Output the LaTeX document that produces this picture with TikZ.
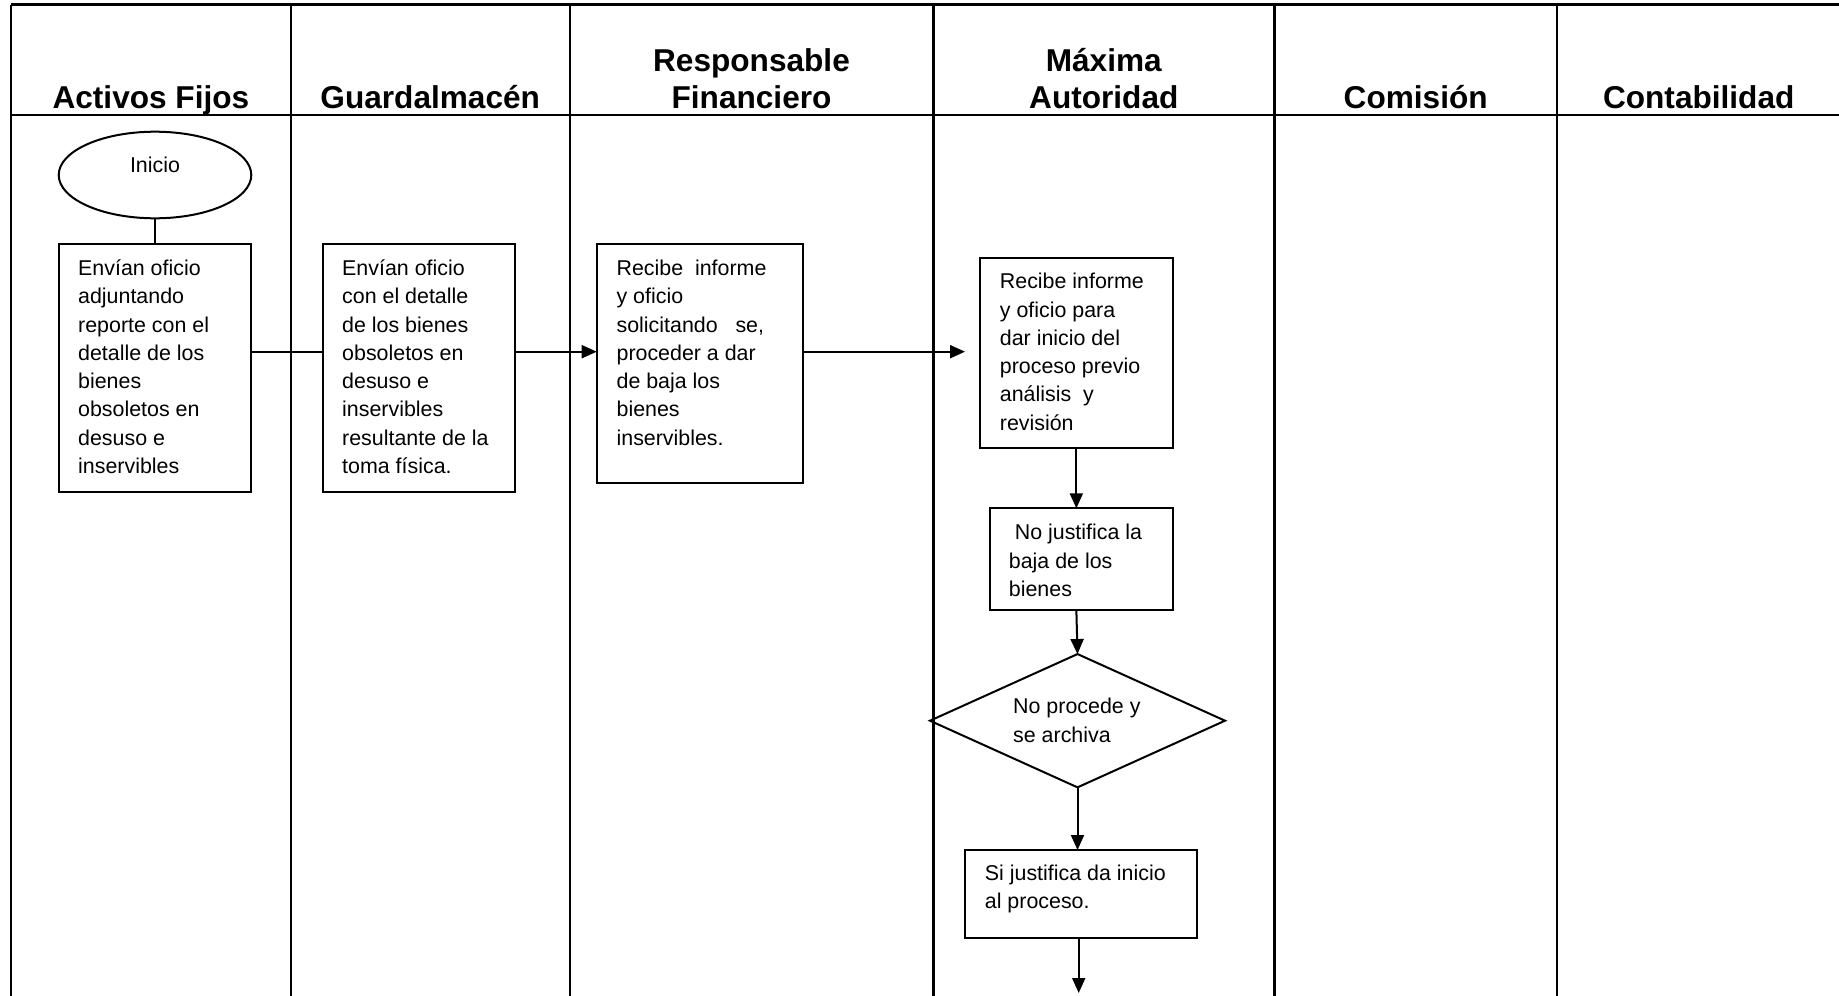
\documentclass[tikz,border=0pt]{standalone}
\usepackage{fontspec}
\setmainfont{Liberation Sans}
\usetikzlibrary{shapes.geometric,arrows.meta}

\begin{document}
\begin{tikzpicture}[x=0.5pt,y=-0.5pt,
  grid/.style={line width=1.2pt},
  outline/.style={draw, line width=1pt, inner sep=0pt, outer sep=0pt},
  stepbox/.style={outline, rectangle},
  txt/.style={anchor=north west, inner sep=0pt, align=left,
    font=\fontsize{10.7pt}{14.15pt}\selectfont},
  head/.style={anchor=north, inner sep=0pt, align=center,
    font=\fontsize{15.8pt}{18.5pt}\selectfont\bfseries},
  link/.style={line width=1pt},
  flow/.style={link, -{Triangle[length=7.5pt,width=6.5pt]}}
]
\useasboundingbox (0,0) rectangle (1839,995);
\clip (0,0) rectangle (1839,995);

% swimlane grid
\draw[grid] (11,4.7) -- (1850,4.7);
\draw[grid] (11,115) -- (1850,115);
\foreach \x in {11,290.7,569.7,933.3,1274.3,1557}
  \draw[grid] (\x,4.7) -- (\x,1000);

% lane titles
\node[head] (h1) at (150.9,81.8) {\strut Activos Fijos};
\node[head] (h2) at (430.2,81.8) {\strut Guardalmacén};
\node[head] (h3) at (751.5,44.8) {\strut Responsable\\Financiero};
\node[head] (h4) at (1103.8,44.8) {\strut Máxima\\Autoridad};
\node[head] (h5) at (1415.7,81.8) {\strut Comisión};
\node[head] (h6) at (1698.7,81.8) {\strut Contabilidad};

% shapes
\node[outline, ellipse, minimum width=96.3pt, minimum height=43.3pt] (ini) at (155,175) {};
\node[anchor=base, inner sep=0pt, font=\fontsize{10.7pt}{14.15pt}\selectfont] (tini) at (155,172.3) {Inicio};

\node[stepbox, minimum width=96.3pt, minimum height=124pt] (b1) at (155,368.3) {};
\node[stepbox, minimum width=96.15pt, minimum height=124pt] (b2) at (418.85,368.3) {};
\node[stepbox, minimum width=103.3pt, minimum height=119.2pt] (b3) at (700,363.5) {};
\node[stepbox, minimum width=96.35pt, minimum height=95.3pt] (b4) at (1076.35,353) {};
\node[stepbox, minimum width=91.35pt, minimum height=50.85pt] (b5) at (1081.35,559.15) {};
\node[outline, diamond, minimum width=147.5pt, minimum height=66.65pt] (dia) at (1077.5,720.7) {};
\node[stepbox, minimum width=116.15pt, minimum height=44.15pt] (b6) at (1081.15,894.15) {};

% texts
\node[txt] (t1) at (77.8,255.2) {\strut Envían oficio\\adjuntando\\reporte con el\\detalle de los\\bienes\\obsoletos en\\desuso e\\inservibles};
\node[txt] (t2) at (341.8,255.2) {\strut Envían oficio\\con el detalle\\de los bienes\\obsoletos en\\desuso e\\inservibles\\resultante de la\\toma física.};
\node[txt] (t3) at (616.2,255.2) {\strut Recibe\ \ informe\\y oficio\\solicitando\ \ \ se,\\proceder a dar\\de baja los\\bienes\\inservibles.};
\node[txt] (t4) at (999.5,268.5) {\strut Recibe informe\\y oficio para\\dar inicio del\\proceso previo\\análisis\ \ y\\revisión};
\node[txt] (t5) at (1008.5,519.5) {\strut\ No justifica la\\baja de los\\bienes};
\node[txt] (t6) at (1012.8,693.5) {\strut No procede y\\se archiva};
\node[txt] (t7) at (984.5,860.2) {\strut Si justifica da inicio\\al proceso.};

% connectors
\coordinate (row) at (0,351.7);
\coordinate (out) at (1078.7,993);
\draw[link] (ini.south) -- (b1.north);
\draw[link] (b1.east |- row) -- (b2.west |- row);
\draw[flow] (b2.east |- row) -- (b3.west |- row);
\draw[flow, shorten >=7.5pt] (b3.east |- row) -- (b4.west |- row);
\draw[flow] (b4.south) -- (b4.south |- b5.north);
\draw[flow] (b4.south |- b5.south) -- (dia.north);
\draw[flow] (dia.south) -- (dia.south |- b6.north);
\draw[flow] (b6.south -| out) -- (out);
\end{tikzpicture}
\end{document}
